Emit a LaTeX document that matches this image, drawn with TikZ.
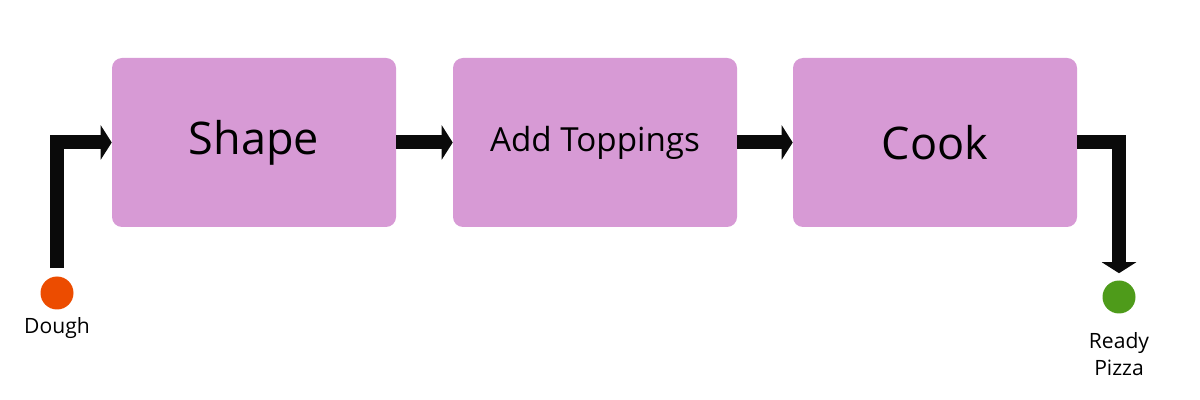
\documentclass[tikz,border=0pt]{standalone}
\usepackage{fontspec}
\setmainfont{Open Sans}
\usetikzlibrary{positioning,arrows.meta,calc}
\definecolor{stepfill}{RGB}{215, 154, 213}
\definecolor{startdot}{RGB}{236, 76, 0}
\definecolor{enddot}{RGB}{78, 155, 26}
\definecolor{flowline}{RGB}{10, 10, 10}

\begin{document}
\begin{tikzpicture}[
    stepbox/.style={fill=stepfill, rounded corners=0.25cm, minimum width=7.1cm, minimum height=4.225cm, inner sep=0pt},
    dot/.style={circle, minimum size=0.825cm, inner sep=0pt},
    flow/.style={draw=flowline, line width=0.35cm, -{Triangle[length=0.275cm 0, width=0.85cm 0]}}]
  \useasboundingbox (0,0) rectangle (30,-10);

  \node[stepbox, font=\fontsize{32}{38}\selectfont] (shape) at (6.35,-3.5625) {Shape};
  \node[stepbox, font=\fontsize{23.6}{28}\selectfont] (toppings) at (14.875,-3.5625) {Add Toppings};
  \node[stepbox, font=\fontsize{32}{38}\selectfont] (cook) at (23.375,-3.5625) {Cook};

  \node[dot, fill=startdot] (dough) at (1.425,-7.325) {};
  \node[dot, fill=enddot] (ready) at (27.975,-7.425) {};
  \node[font=\fontsize{15}{19}\selectfont] (doughlbl) at (1.425,-8.2) {Dough};
  \node[font=\fontsize{15}{19.2}\selectfont, align=center] (readylbl) at (27.975,-8.84) {Ready\\Pizza};

  \draw[flow, shorten <=0.2cm] (dough) |- (shape);
  \draw[flow] (shape) -- (toppings);
  \draw[flow] (toppings) -- (cook);
  \draw[flow, shorten >=0.175cm] (cook) -| (ready);
\end{tikzpicture}
\end{document}
